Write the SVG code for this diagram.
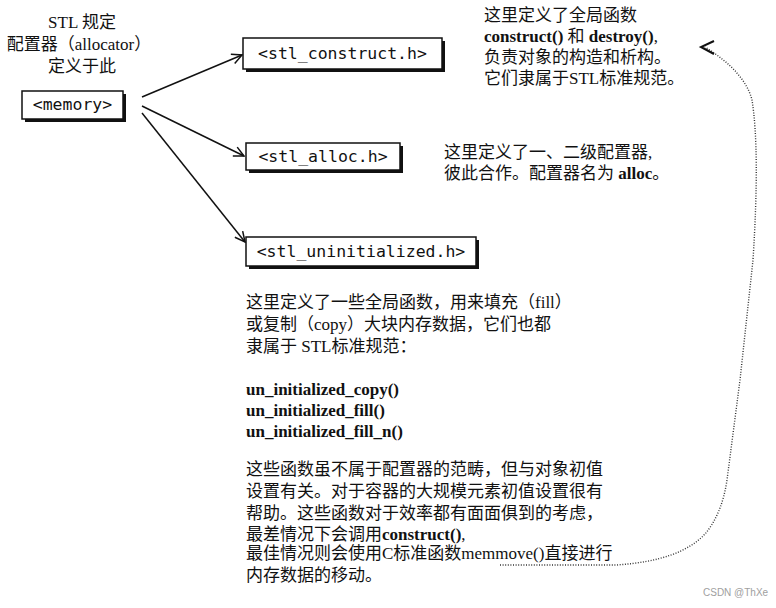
<svg xmlns="http://www.w3.org/2000/svg" width="776" height="608" viewBox="0 0 776 608">
<defs>
<style>
.t{font-family:"Liberation Serif","Noto Sans CJK SC",serif;font-size:17px;fill:#111}
.b{font-weight:bold}
.m{font-family:"DejaVu Sans Mono","Liberation Mono",monospace;font-size:16.5px;fill:#111;text-anchor:middle}
.box{fill:#fff;stroke:#111;stroke-width:1.5}
.sh{fill:#111}
.edge{fill:none;stroke:#111;stroke-width:1.5}
.dot{fill:none;stroke:#333;stroke-width:1.4;stroke-dasharray:1 1.6}
.wm{font-family:"Liberation Sans",sans-serif;font-size:10px;fill:#a0a0a0}
</style>
<marker id="arr" viewBox="0 0 12 12" refX="11" refY="6" markerWidth="12" markerHeight="12" markerUnits="userSpaceOnUse" orient="auto">
<polyline points="1,1 11,6 1,11" fill="none" stroke="#111" stroke-width="1.5"/>
</marker>
</defs>
<rect width="776" height="608" fill="#fff"/>

<g id="label-left">
<text class="t" x="82" y="28" text-anchor="middle">STL 规定</text>
<text class="t" x="79" y="50" text-anchor="middle">配置器（allocator）</text>
<text class="t" x="82" y="72" text-anchor="middle">定义于此</text>
</g>

<g id="node-memory">
<rect class="sh" x="25" y="94" width="101" height="28"/>
<rect class="box" x="22" y="91" width="101" height="28"/>
<text class="m" x="72.5" y="110">&lt;memory&gt;</text>
</g>

<g id="node-construct">
<rect class="sh" x="246" y="41" width="199" height="31"/>
<rect class="box" x="243" y="38" width="199" height="31"/>
<text class="m" x="342.5" y="59">&lt;stl_construct.h&gt;</text>
</g>

<g id="node-alloc">
<rect class="sh" x="249" y="146" width="154" height="27"/>
<rect class="box" x="246" y="143" width="154" height="27"/>
<text class="m" x="323" y="162">&lt;stl_alloc.h&gt;</text>
</g>

<g id="node-uninit">
<rect class="sh" x="249" y="240" width="230" height="29"/>
<rect class="box" x="246" y="237" width="230" height="29"/>
<text class="m" x="361" y="257">&lt;stl_uninitialized.h&gt;</text>
</g>

<g id="connectors">
<line class="edge" x1="142" y1="97" x2="242" y2="55" marker-end="url(#arr)"/>
<line class="edge" x1="142" y1="106" x2="244" y2="156" marker-end="url(#arr)"/>
<line class="edge" x1="142" y1="113" x2="245" y2="242" marker-end="url(#arr)"/>
<path class="dot" d="M500,565 L616,565 Q680,561 705,534 Q722,514 727,480 L740,380 L753,260 Q760,150 752,100 Q745,72 705,47"/>
<polyline points="714,41 701,47 714,54" fill="none" stroke="#111" stroke-width="2"/>
</g>

<g id="note-construct">
<text class="t" x="484" y="21">这里定义了全局函数</text>
<text class="t" x="484" y="42"><tspan class="b">construct()</tspan> 和 <tspan class="b">destroy()</tspan>,</text>
<text class="t" x="484" y="63">负责对象的构造和析构。</text>
<text class="t" x="484" y="84">它们隶属于STL标准规范。</text>
</g>

<g id="note-alloc">
<text class="t" x="444" y="158">这里定义了一、二级配置器,</text>
<text class="t" x="444" y="179">彼此合作。配置器名为 <tspan class="b">alloc</tspan>。</text>
</g>

<g id="note-uninit">
<text class="t" x="246" y="308">这里定义了一些全局函数，用来填充（fill）</text>
<text class="t" x="246" y="330">或复制（copy）大块内存数据，它们也都</text>
<text class="t" x="246" y="352">隶属于 STL标准规范：</text>
<text class="t b" x="246" y="395">un_initialized_copy()</text>
<text class="t b" x="246" y="416">un_initialized_fill()</text>
<text class="t b" x="246" y="437">un_initialized_fill_n()</text>
<text class="t" x="246" y="475">这些函数虽不属于配置器的范畴，但与对象初值</text>
<text class="t" x="246" y="497">设置有关。对于容器的大规模元素初值设置很有</text>
<text class="t" x="246" y="519">帮助。这些函数对于效率都有面面俱到的考虑，</text>
<text class="t" x="246" y="540">最差情况下会调用<tspan class="b">construct()</tspan>,</text>
<text class="t" x="246" y="559">最佳情况则会使用C标准函数memmove()直接进行</text>
<text class="t" x="246" y="581">内存数据的移动。</text>
</g>

<text class="wm" x="703" y="596">CSDN @ThXe</text>
</svg>
